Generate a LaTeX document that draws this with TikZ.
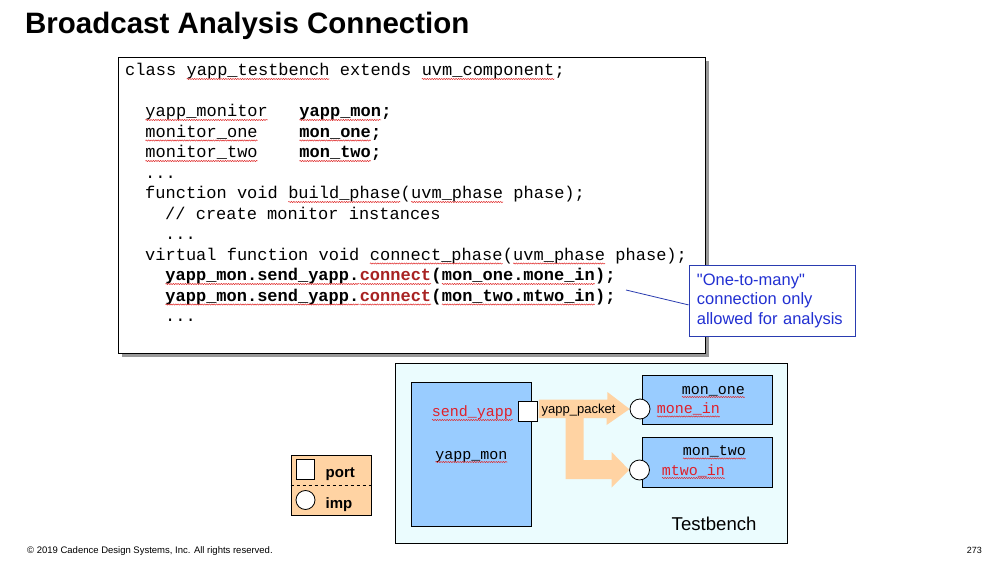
\documentclass[tikz,border=0pt]{standalone}
\usepackage{fontspec}
\setmainfont{Liberation Sans}
\newfontfamily\notefont[Ligatures=TeXOff]{Liberation Sans}
\newfontfamily\codefont[WordSpace=1.3]{Liberation Mono}
\newfontfamily\monofont{Liberation Mono}
\usetikzlibrary{positioning,shadows,decorations.pathmorphing}

\definecolor{boxblue}{HTML}{99CCFF}
\definecolor{peach}{HTML}{FFD3A3}
\definecolor{tbcyan}{HTML}{EBFCFE}
\definecolor{squig}{HTML}{E02828}
\definecolor{conred}{HTML}{A82222}
\definecolor{portred}{HTML}{E0202A}
\definecolor{noteblue}{HTML}{2230D2}
\definecolor{noteline}{HTML}{2A3CB0}

% spell-check style wavy underline
\newcommand{\sq}[1]{\tikz[baseline=(sqw.base)]{\node[inner sep=0pt,outer sep=0pt] (sqw) {#1};
  \draw[squig,line width=0.5pt,decorate,decoration={snake,amplitude=0.6pt,segment length=2.4pt}]
    ([yshift=-3pt]sqw.base west) -- ([yshift=-3pt]sqw.base east);}}

\begin{document}
\begin{tikzpicture}[x=1pt,y=-1pt,
    code/.style={font={\codefont\fontsize{17}{20.5}\selectfont}, inner sep=0pt, anchor=base west},
    mono/.style={font={\monofont\fontsize{15}{18}\selectfont}, inner sep=0pt, anchor=base west},
    blk/.style={draw, fill=boxblue, line width=0.8pt, inner sep=0pt, anchor=north west},
    portsq/.style={draw, fill=white, line width=0.8pt, inner sep=0pt, minimum width=19pt, minimum height=20pt},
    impc/.style={draw, fill=white, circle, line width=0.8pt, inner sep=0pt, minimum size=20pt},
    flow/.style={fill=peach}]
  \fill[white] (0,0) rectangle (991,561);
  \useasboundingbox (0,0) rectangle (991,561);

  \node[font=\bfseries\fontsize{29.5}{34}\selectfont, anchor=base west, inner sep=0pt] (title) at (25,33.5)
    {Broadcast Analysis Connection};

  % code listing
  \node[draw, line width=1.2pt, fill=white, anchor=north west, inner sep=0pt,
        minimum width=587pt, minimum height=296pt,
        drop shadow={shadow xshift=3.5pt, shadow yshift=-3.5pt, fill=black!40, opacity=1}] (codebox) at (118,57) {};
  \foreach \row/\ind/\ltxt in {
      0/0/{class \sq{yapp\_testbench} extends \sq{uvm\_component};},
      2/20/{\makebox[154pt][l]{\sq{yapp\_monitor}}\textbf{\sq{yapp\_mon};}},
      3/20/{\makebox[154pt][l]{\sq{monitor\_one}}\textbf{\sq{mon\_one};}},
      4/20/{\makebox[154pt][l]{\sq{monitor\_two}}\textbf{\sq{mon\_two};}},
      5/20/{...},
      6/20/{function void \sq{build\_phase}(\sq{uvm\_phase} phase);},
      7/40/{// create monitor instances},
      8/40/{...},
      9/20/{virtual function void \sq{connect\_phase}(\sq{uvm\_phase} phase);},
      10/40/{\textbf{\sq{yapp\_mon.send\_yapp.}\textcolor{conred}{\sq{connect}}(\sq{mon\_one.mone\_in});}},
      11/40/{\textbf{\sq{yapp\_mon.send\_yapp.}\textcolor{conred}{\sq{connect}}(\sq{mon\_two.mtwo\_in});}},
      12/40/{...}}
    \node[code] (line\row) at ({125+\ind},{76+20.5*\row}) {\ltxt};

  % callout
  \node[draw=noteline, line width=0.8pt, fill=white, text=noteblue, font=\notefont\fontsize{16.5}{19.5}\selectfont,
        align=left, text width=150pt, inner xsep=8pt, minimum height=71pt, anchor=north west] (note) at (688.5,265)
    {"One-to-many"\\connection only\\allowed for analysis};
  \coordinate (lead) at (626,290);
  \draw[noteline, line width=0.8pt] (lead) -- ([yshift=-4pt]note.west);

  % testbench
  \node[draw, fill=tbcyan, line width=0.8pt, minimum width=392pt, minimum height=180pt,
        anchor=north west, inner sep=0pt] (tb) at (395,363) {};
  \node[font=\fontsize{18.6}{22}\selectfont, anchor=base west, inner sep=0pt] (tblabel) at (671.5,530) {Testbench};

  \node[blk, minimum width=120pt, minimum height=144pt] (ymon) at (410.7,382) {};
  \node[blk, minimum width=130pt, minimum height=49pt] (mone) at (642,375) {};
  \node[blk, minimum width=130pt, minimum height=50pt] (mtwo) at (642,437) {};

  \node[portsq] (sendport) at (527.5,411.5) {};
  \node[impc] (c1) at (640,409) {};
  \node[impc] (c2) at (639.5,470) {};

  \fill[flow] (sendport.east) ++(1.5,-12) -- ++(68.5,0) -- ++(0,-7.5) -- (c1.west) -- ++(-23,16)
    -- ++(0,-7) -- ++(-23,0) -- ++(0,42) -- ++(28,0) -- ++(0,-8) -- (c2.west) -- ++(-17.5,17.5)
    -- ++(0,-8.5) -- ++(-46,0) -- ++(0,-61) -- ++(-27,0) -- cycle;
  \node[font=\fontsize{13}{15}\selectfont, anchor=base west, inner sep=0pt] (pkt) at (541.5,413.5) {yapp\_packet};

  \node[mono, text=portred] (sendlbl) at (431.5,417) {\sq{send\_yapp}};
  \node[mono] (ymonlbl) at (435,459) {\sq{yapp\_mon}};
  \node[mono] (monelbl) at (681.5,394) {\sq{mon\_one}};
  \node[mono, text=portred] (monein) at (656.5,413.5) {\sq{mone\_in}};
  \node[mono] (mtwolbl) at (682.5,455.5) {\sq{mon\_two}};
  \node[mono, text=portred] (mtwoin) at (661.5,475) {\sq{mtwo\_in}};

  % legend
  \node[draw, fill=peach, line width=0.8pt, minimum width=80pt, minimum height=60pt,
        anchor=north west, inner sep=0pt] (legend) at (290.5,455) {};
  \draw[dashed, line width=0.6pt] (legend.west) -- (legend.east);
  \node[portsq, minimum width=18pt] (legport) at (305,469) {};
  \node[impc, minimum size=19pt] (legimp) at (305.5,500) {};
  \node[font=\bfseries\fontsize{15}{18}\selectfont, anchor=base west, inner sep=0pt] (portlbl) at (325.5,477.5) {port};
  \node[font=\bfseries\fontsize{15}{18}\selectfont, anchor=base west, inner sep=0pt] (implbl) at (325.5,508) {imp};

  % footer
  \node[font=\fontsize{9.5}{11}\selectfont, anchor=base west, inner sep=0pt] (copy) at (27,553.5)
    {\textcopyright{} 2019 Cadence Design Systems, Inc. All rights reserved.};
  \node[font=\fontsize{9}{11}\selectfont, anchor=base east, inner sep=0pt] (pgnum) at (982,553.5) {273};
\end{tikzpicture}
\end{document}
